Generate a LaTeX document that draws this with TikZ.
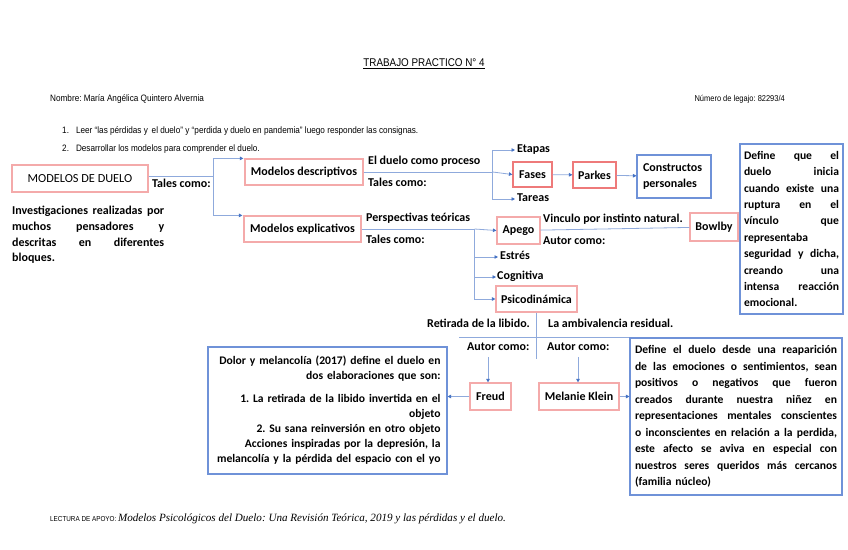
\documentclass[tikz,border=0pt]{standalone}
\usepackage{fontspec}
\setmainfont{Carlito}
\newfontfamily\hdr[FakeStretch=0.88]{Liberation Sans}
\newfontfamily\tms{Liberation Serif}
\usetikzlibrary{arrows.meta}
\definecolor{pinkA}{HTML}{F4AAAA}
\definecolor{redB}{HTML}{EE7A7A}
\definecolor{blueBox}{HTML}{6F92D8}
\definecolor{connc}{HTML}{8FAADC}
\definecolor{tipc}{HTML}{4472C4}
\newcommand\jl[2]{{\spaceskip=0.22em plus 1fil\xspaceskip=\spaceskip\makebox[#1][s]{#2}}}
\frenchspacing
\begin{document}
\begin{tikzpicture}[x=1pt,y=-1pt,
  lbl/.style={font=\bfseries\fontsize{12}{14}\selectfont, inner sep=0pt, anchor=west, text height=8pt, text depth=2.5pt},
  pbox/.style={draw=pinkA, line width=1.2pt, font=\bfseries\fontsize{12}{14}\selectfont, inner sep=0pt},
  rbox/.style={pbox, draw=redB},
  bbox/.style={draw=blueBox, line width=1.1pt, inner sep=0pt},
  hdrtxt/.style={font=\hdr\fontsize{9.3}{10}\selectfont, inner sep=0pt, anchor=west},
  cline/.style={draw=connc, line width=0.8pt},
  carr/.style={cline, -{Triangle[length=3.5pt,width=3.5pt,color=tipc]}},
]
\useasboundingbox[fill=white] (0,0) rectangle (848,549);

% header
\node[font=\hdr\fontsize{11.2}{12}\selectfont, inner sep=0pt] (title) at (424,64) {\underline{TRABAJO PRACTICO N° 4}};
\node[hdrtxt] (nombre) at (50,99) {Nombre: María Angélica Quintero Alvernia};
\node[hdrtxt, font=\hdr\fontsize{8.5}{10}\selectfont, anchor=east] (legajo) at (785,99) {Número de legajo: 82293/4};
\node[hdrtxt] (item1) at (62,131) {1.\hspace{7pt}Leer “las pérdidas y\, el duelo” y “perdida y duelo en pandemia” luego responder las consignas.};
\node[hdrtxt] (item2) at (62,149) {2.\hspace{7pt}Desarrollar los modelos para comprender el duelo.};

% footer
\node[inner sep=0pt, anchor=west] (foot) at (50,519) {{\hdr\fontsize{7.2}{8}\selectfont LECTURA DE APOYO:}\,{\tms\itshape\fontsize{11.1}{12}\selectfont Modelos Psicológicos del Duelo: Una Revisión Teórica, 2019 y las pérdidas y el duelo.}};

% boxes
\node[pbox, font=\fontsize{12.3}{14}\selectfont, minimum width=136pt, minimum height=27pt] (duelo) at (80,178.5) {MODELOS DE DUELO};
\node[pbox, minimum width=118pt, minimum height=26pt] (desc) at (304,172) {Modelos descriptivos};
\node[pbox, minimum width=117pt, minimum height=26pt] (expl) at (302.5,229) {Modelos explicativos};
\node[rbox, minimum width=39pt, minimum height=25pt] (fases) at (532.5,174.5) {Fases};
\node[rbox, minimum width=43pt, minimum height=26pt] (parkes) at (594.5,175) {Parkes};
\node[bbox, font=\bfseries\fontsize{12}{16}\selectfont, minimum height=43pt, text width=62pt, inner xsep=6pt, align=left] (constr) at (674,176.5) {Constructos\\personales};
\node[pbox, minimum width=43pt, minimum height=27pt] (apego) at (518.5,230.5) {Apego};
\node[pbox, minimum width=48pt, minimum height=28pt] (bowlby) at (714,227) {Bowlby};
\node[pbox, minimum width=81pt, minimum height=26pt] (psico) at (536.5,299) {Psicodinámica};
\node[pbox, minimum width=41pt, minimum height=27pt] (freud) at (490.5,396.5) {Freud};
\node[pbox, minimum width=80pt, minimum height=27pt] (klein) at (579,396.5) {Melanie Klein};

\node[bbox, font=\bfseries\fontsize{11.6}{16.4}\selectfont, minimum width=103pt, minimum height=170pt, text width=95pt, align=left] (defbox) at (791.5,229) {%
\jl{95pt}{Define que el}\\
\jl{95pt}{duelo inicia}\\
\jl{95pt}{cuando existe una}\\
\jl{95pt}{ruptura en el}\\
\jl{95pt}{vínculo que}\\
representaba\\
\jl{95pt}{seguridad y dicha,}\\
\jl{95pt}{creando una}\\
\jl{95pt}{intensa reacción}\\
emocional.};

\node[bbox, font=\bfseries\fontsize{11.6}{16.5}\selectfont, minimum width=212pt, minimum height=157pt, text width=202pt, align=left] (kleinTxt) at (736,416.5) {%
\jl{202pt}{Define el duelo desde una reaparición}\\
\jl{202pt}{de las emociones o sentimientos, sean}\\
\jl{202pt}{positivos o negativos que fueron}\\
\jl{202pt}{creados durante nuestra niñez en}\\
\jl{202pt}{representaciones mentales conscientes}\\
\jl{202pt}{o inconscientes en relación a la perdida,}\\
\jl{202pt}{este afecto se aviva en especial con}\\
\jl{202pt}{nuestros seres queridos más cercanos}\\
(familia núcleo)};

\node[bbox, font=\bfseries\fontsize{11.6}{15.2}\selectfont, minimum width=239pt, minimum height=127pt, text width=226pt, align=right] (freudTxt) at (327.5,410.5) {%
Dolor y melancolía (2017) define el duelo en\\
dos elaboraciones que son:\\[7pt]
1. La retirada de la libido invertida en el\\
objeto\\
2. Su sana reinversión en otro objeto\\
Acciones inspiradas por la depresión, la\\
melancolía y la pérdida del espacio con el yo};

\node[font=\bfseries\fontsize{12}{15.7}\selectfont, text width=152pt, align=left, inner sep=0pt, anchor=west] (inv) at (12,235) {%
\jl{152pt}{Investigaciones realizadas por}\\
\jl{152pt}{muchos pensadores y}\\
\jl{152pt}{descritas en diferentes}\\
bloques.};

% labels
\node[lbl] (tc1) at (152,185) {Tales como:};
\node[lbl] (proc) at (368,162) {El duelo como proceso};
\node[lbl] (tc2) at (368,184) {Tales como:};
\node[lbl] (etapas) at (517,150) {Etapas};
\node[lbl] (tareas) at (517,199) {Tareas};
\node[lbl] (persp) at (366,219) {Perspectivas teóricas};
\node[lbl] (tc3) at (366,241) {Tales como:};
\node[lbl] (vinc) at (543,220) {Vinculo por instinto natural.};
\node[lbl] (ac1) at (543,242) {Autor como:};
\node[lbl] (estres) at (500,257) {Estrés};
\node[lbl] (cogn) at (497,277) {Cognitiva};
\node[lbl] (retir) at (427,325) {Retirada de la libido.};
\node[lbl] (ambiv) at (548,325) {La ambivalencia residual.};
\node[lbl] (ac2) at (467,348) {Autor como:};
\node[lbl] (ac3) at (547,348) {Autor como:};

% connectors
\draw[cline] ([yshift=2.5pt]duelo.east) -- ++(65,0) coordinate (j1);
\draw[carr, shorten >=1pt] (j1) |- (desc.north west);
\draw[carr, shorten >=1pt] (j1) |- (expl.north west);
\draw[cline] (desc.east) -- ++(129,0) coordinate (j2);
\draw[carr, shorten >=2pt] (j2) |- (etapas.west);
\draw[carr] (j2) -- (fases.west);
\draw[carr, shorten >=2pt] (j2) |- (tareas.west);
\draw[carr] (fases) -- (parkes);
\draw[carr] (parkes) -- (constr);
\draw[cline] (expl.east) -- ++(113,0) coordinate (j3);
\draw[carr] (j3) -- (apego.west);
\draw[carr, shorten >=2pt] (j3) |- (estres.west);
\draw[carr, shorten >=1pt] (j3) |- (cogn.west);
\draw[carr] (j3) |- (psico.west);
\draw[cline] (apego) -- (bowlby);
\draw[cline] (psico.south) -- ++(0,46) coordinate (pbot);
\coordinate (hl) at (459,337);
\draw[cline] (hl) -- (hl -| kleinTxt.west);
\coordinate (fa) at (488,357);
\draw[carr] (fa) -- (fa |- freud.north);
\coordinate (ka) at (578,357);
\draw[carr] (ka) -- (ka |- klein.north);
\draw[carr] (freud) -- (freudTxt.east |- freud);
\draw[carr] (klein.east) -- (kleinTxt.west |- klein.east);
\end{tikzpicture}
\end{document}
